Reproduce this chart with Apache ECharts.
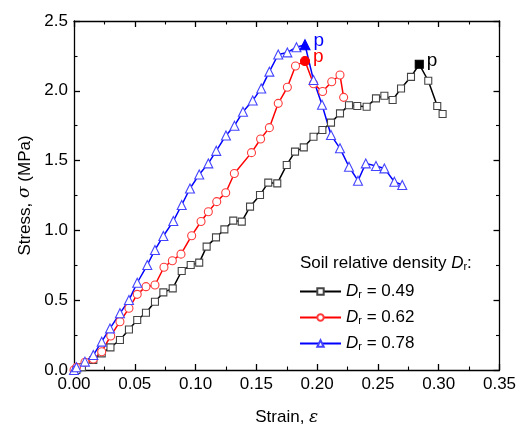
<!DOCTYPE html>
<html>
<head>
<meta charset="utf-8">
<script src="https://cdn.jsdelivr.net/npm/echarts@6/dist/echarts.min.js"></script>
<style>
  html, body { margin: 0; padding: 0; background: #fff; }
  #chart { width: 531px; height: 432px; }
</style>
</head>
<body>
<div id="chart"></div>
<script>
// strain / stress pairs
var dr049 = [
  [0.002, 0.000], [0.0065, 0.020], [0.0159, 0.072], [0.0228, 0.119], [0.030, 0.162],
  [0.0378, 0.215], [0.0452, 0.290], [0.052, 0.358], [0.0592, 0.410], [0.0666, 0.489],
  [0.0735, 0.556], [0.0812, 0.585], [0.0886, 0.709], [0.096, 0.752], [0.103, 0.769],
  [0.1091, 0.884], [0.1168, 0.950], [0.1237, 1.007], [0.131, 1.070], [0.138, 1.063],
  [0.1448, 1.170], [0.153, 1.254], [0.1598, 1.342], [0.1672, 1.337], [0.175, 1.469],
  [0.1818, 1.564], [0.189, 1.595], [0.197, 1.671], [0.2043, 1.719], [0.2114, 1.772],
  [0.2188, 1.838], [0.2262, 1.896], [0.233, 1.891], [0.2407, 1.886], [0.2484, 1.946],
  [0.2553, 1.965], [0.2621, 1.934], [0.269, 2.017], [0.2772, 2.100], [0.284, 2.190],
  [0.2914, 2.072], [0.2988, 1.891], [0.3032, 1.834]
];
var dr062 = [
  [0.000, 0.000], [0.002, 0.019], [0.009, 0.055], [0.0159, 0.079], [0.0228, 0.131],
  [0.0302, 0.244], [0.0378, 0.346], [0.0452, 0.442], [0.052, 0.542], [0.0592, 0.597],
  [0.0666, 0.609], [0.074, 0.736], [0.0809, 0.783], [0.088, 0.830], [0.0968, 0.962],
  [0.1045, 1.064], [0.1105, 1.134], [0.1174, 1.206], [0.1248, 1.270], [0.1319, 1.408],
  [0.146, 1.557], [0.1535, 1.655], [0.1607, 1.736], [0.168, 1.910], [0.1755, 2.025],
  [0.1822, 2.178], [0.190, 2.213], [0.197, 2.050], [0.2045, 1.995], [0.212, 2.065],
  [0.2188, 2.113], [0.2218, 1.953]
];
var dr078 = [
  [0.000, 0.000], [0.002, 0.020], [0.009, 0.060], [0.0159, 0.107], [0.0228, 0.203],
  [0.0296, 0.298], [0.0378, 0.406], [0.0452, 0.501], [0.052, 0.625], [0.0603, 0.752],
  [0.0666, 0.860], [0.0735, 0.960], [0.0817, 1.067], [0.0886, 1.182], [0.0954, 1.300],
  [0.103, 1.400], [0.1105, 1.480], [0.117, 1.570], [0.125, 1.680], [0.132, 1.750],
  [0.139, 1.850], [0.147, 1.930], [0.154, 2.017], [0.1607, 2.137], [0.168, 2.260],
  [0.1755, 2.275], [0.183, 2.312], [0.190, 2.330], [0.197, 2.077], [0.204, 1.900],
  [0.2114, 1.683], [0.2188, 1.588], [0.2262, 1.456], [0.2336, 1.356], [0.240, 1.480],
  [0.2484, 1.461], [0.2553, 1.444], [0.2635, 1.349], [0.270, 1.325]
];
// index of the peak point "p" in each series
var peakIdx = [39, 26, 27];
var seriesNames = ['Dr = 0.49', 'Dr = 0.62', 'Dr = 0.78'];
var drValues = ['0.49', '0.62', '0.78'];

var FONT = 'Liberation Sans, Arial, sans-serif';
var myChart = echarts.init(document.getElementById('chart'), null, { renderer: 'canvas' });

function axisCommon(extra) {
  return Object.assign({
    type: 'value',
    axisLine: { show: true, onZero: false, lineStyle: { color: '#000', width: 1.3 } },
    axisTick: { show: true, inside: true, length: 6, lineStyle: { color: '#000', width: 1.3 } },
    minorTick: { show: true, splitNumber: 2, length: 3.5, lineStyle: { color: '#000', width: 1.1 } },
    splitLine: { show: false },
    axisLabel: { show: false }
  }, extra);
}

function mark(data, idx, color, size) {
  return data.map(function (d, i) {
    if (i !== idx) return d;
    return {
      value: d,
      symbolSize: size + 1,
      itemStyle: { color: color, borderColor: color },
      label: {
        show: true, formatter: 'p', position: 'right', distance: 3,
        color: color, fontSize: 19, fontFamily: FONT, offset: [0, -4]
      }
    };
  });
}

var styles = [
  { line: '#000000', mark: '#444444', symbol: 'rect', size: 7 },
  { line: '#ff0000', mark: '#ff3b3b', symbol: 'circle', size: 8 },
  { line: '#0000ff', mark: '#4444ff', symbol: 'triangle', size: 9 }
];
var datasets = [dr049, dr062, dr078];

var richText = {
  i: { fontSize: 17, fontStyle: 'italic', color: '#000', fontFamily: FONT },
  s: { fontSize: 11, color: '#000', fontFamily: FONT, verticalAlign: 'bottom', lineHeight: 12 }
};

var option = {
  animation: false,
  backgroundColor: '#fff',
  textStyle: { fontFamily: FONT },
  grid: { left: 74, right: 31.5, top: 21, bottom: 62 },
  title: {
    text: 'Soil relative density {i|D}{s|r}:',
    left: 300, top: 255, padding: 0,
    textStyle: { fontSize: 17, fontWeight: 'normal', color: '#000', fontFamily: FONT, rich: richText }
  },
  legend: {
    orient: 'vertical',
    left: 299, top: 283, padding: 0,
    itemWidth: 41, itemHeight: 8, itemGap: 9,
    data: seriesNames,
    formatter: function (name) {
      return '{i|D}{s|r} = ' + drValues[seriesNames.indexOf(name)];
    },
    textStyle: { fontSize: 17, color: '#000', fontFamily: FONT, rich: richText }
  },
  xAxis: [
    axisCommon({
      min: 0, max: 0.35, interval: 0.05, position: 'bottom',
      name: 'Strain, {i|ε}', nameLocation: 'middle', nameGap: 39,
      nameTextStyle: {
        fontSize: 17, color: '#000', fontFamily: FONT,
        rich: { i: { fontSize: 17, fontStyle: 'italic', fontFamily: 'DejaVu Serif', color: '#000' } }
      },
      axisLabel: {
        show: true, color: '#000', fontSize: 17, fontFamily: FONT, margin: 6,
        formatter: function (v) { return v.toFixed(2); }
      }
    }),
    axisCommon({ min: 0, max: 0.35, interval: 0.05, position: 'top' })
  ],
  yAxis: [
    axisCommon({
      min: 0, max: 2.5, interval: 0.5, position: 'left',
      name: 'Stress, {i|σ} (MPa)', nameLocation: 'middle', nameGap: 36, nameRotate: 90,
      nameTextStyle: {
        fontSize: 17, color: '#000', fontFamily: FONT,
        rich: { i: { fontSize: 17, fontStyle: 'italic', fontFamily: 'DejaVu Serif', color: '#000' } }
      },
      axisLabel: {
        show: true, color: '#000', fontSize: 17, fontFamily: FONT, margin: 6,
        formatter: function (v) { return v.toFixed(1); }
      }
    }),
    axisCommon({ min: 0, max: 2.5, interval: 0.5, position: 'right' })
  ],
  series: datasets.map(function (data, k) {
    var s = styles[k];
    return {
      name: seriesNames[k],
      type: 'line',
      xAxisIndex: 0,
      yAxisIndex: 0,
      data: mark(data, peakIdx[k], s.line, s.size),
      symbol: s.symbol,
      symbolSize: s.size,
      showAllSymbol: true,
      lineStyle: { color: s.line, width: 1.5 },
      itemStyle: { color: '#fff', borderColor: s.mark, borderWidth: 1.1 },
      emphasis: { disabled: true }
    };
  })
};

myChart.setOption(option);
</script>
</body>
</html>
